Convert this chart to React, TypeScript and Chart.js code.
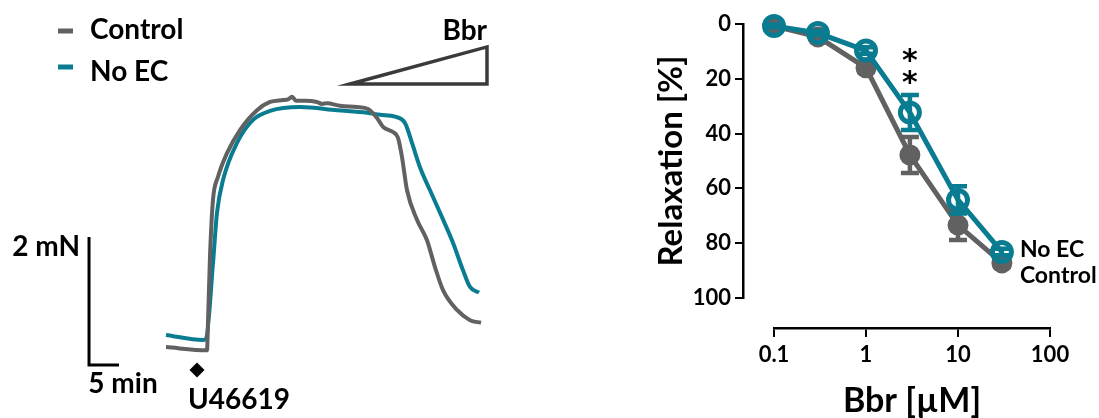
import React, { useEffect, useRef } from 'react';
import { Chart, registerables } from 'chart.js';

Chart.register(...registerables);

const FONT = 'Lato, "Open Sans", "DejaVu Sans", sans-serif';
const STAR_FONT = '"DejaVu Sans", sans-serif';
const WEIGHT = 'bold';
const GRAY = '#616161';
const TEAL = '#0a7c92';
const INK = '#000000';

// ---------- Left panel: tension traces (time in min, force in mN) ----------
const seriesNames = ['Control', 'No EC'];

const controlTraceMin = [0, 6.83, 7.0, 7.33, 7.83, 8.67, 10.17, 12.33, 15.17, 17.33, 19.5, 20.33, 21.0, 21.67, 23.17, 25.17, 26.0, 26.83, 29.0, 31.83, 33.67, 35.17, 36.17, 37.83, 38.67, 39.33, 40.17, 41.83, 43.5, 44.83, 46.17, 48.5, 50.67, 52.5];
const controlTraceMN = [0.28, 0.23, 0.66, 1.69, 2.58, 2.94, 3.31, 3.67, 3.98, 4.11, 4.14, 4.15, 4.19, 4.13, 4.13, 4.11, 4.08, 4.09, 4.05, 4.03, 4.0, 3.86, 3.72, 3.64, 3.55, 3.25, 2.73, 2.27, 1.95, 1.53, 1.17, 0.86, 0.7, 0.66];

const noEcTraceMin = [0, 6.17, 6.67, 7.83, 8.5, 9.5, 11.83, 14.5, 17.33, 22.33, 28.5, 33.5, 35.67, 38.17, 39.83, 41.0, 42.33, 44.0, 46.0, 47.83, 49.5, 50.67, 52.17];
const noEcTraceMN = [0.47, 0.39, 0.41, 1.59, 2.38, 2.89, 3.47, 3.83, 3.97, 4.03, 3.98, 3.94, 3.91, 3.88, 3.78, 3.47, 3.09, 2.73, 2.31, 1.91, 1.48, 1.22, 1.13];

// scale bar and markers (data units)
const scaleBarForceMN = 2;
const scaleBarTimeMin = 5;
const scaleBarAtMin = -12.83;
const u46619AtMin = 5.17;
const bbrWedgeStartMin = 30.67;
const bbrWedgeEndMin = 53.5;
const bbrWedgeLowMN = 4.39;
const bbrWedgeHighMN = 4.97;

// ---------- Right panel: concentration–response ----------
const bbrConcentrationsUM = [0.1, 0.3, 1, 3, 10, 30];
const controlRelaxation = [0.8, 4.7, 16, 47.8, 73.4, 87.2];
const controlSem = [0.5, 1, 1.5, 6.6, 5.4, 1.5];
const noEcRelaxation = [0.7, 3.3, 9.7, 32.3, 64.2, 83.2];
const noEcSem = [0.5, 0.8, 1.2, 6.4, 5.0, 1.2];
const xTickValues = [0.1, 1, 10, 100];
const yTickValues = [0, 20, 40, 60, 80, 100];
const significanceAt = 3;
const significanceMarks = ['*', '*'];

const bold = (size: number) => `${WEIGHT} ${size}px ${FONT}`;

const traceAnnotations = {
  id: 'traceAnnotations',
  afterDraw(chart: any) {
    const { ctx } = chart;
    const x = chart.scales.x;
    const y = chart.scales.y;
    ctx.save();
    // legend
    const legendColors = [GRAY, TEAL];
    const legendRows = [31, 67];
    const legendBase = [39, 81];
    seriesNames.forEach((name, i) => {
      ctx.strokeStyle = legendColors[i];
      ctx.lineWidth = 5;
      ctx.beginPath();
      ctx.moveTo(58, legendRows[i]);
      ctx.lineTo(73, legendRows[i]);
      ctx.stroke();
      ctx.fillStyle = INK;
      ctx.font = bold(28);
      ctx.textAlign = 'left';
      ctx.textBaseline = 'alphabetic';
      ctx.fillText(name, 90, legendBase[i]);
    });

    // Bbr wedge
    const wx0 = x.getPixelForValue(bbrWedgeStartMin);
    const wx1 = x.getPixelForValue(bbrWedgeEndMin);
    const wyLow = y.getPixelForValue(bbrWedgeLowMN);
    const wyHigh = y.getPixelForValue(bbrWedgeHighMN);
    ctx.strokeStyle = '#3a3a3a';
    ctx.lineWidth = 3.5;
    ctx.lineJoin = 'miter';
    ctx.beginPath();
    ctx.moveTo(wx0, wyLow);
    ctx.lineTo(wx1, wyHigh);
    ctx.lineTo(wx1, wyLow);
    ctx.closePath();
    ctx.stroke();
    ctx.fillStyle = INK;
    ctx.font = bold(28);
    ctx.textAlign = 'right';
    ctx.fillText('Bbr', wx1, wyHigh - 7);

    // scale bars
    const sx = x.getPixelForValue(scaleBarAtMin);
    const sx2 = x.getPixelForValue(scaleBarAtMin + scaleBarTimeMin);
    const sy0 = y.getPixelForValue(0);
    const sy1 = y.getPixelForValue(scaleBarForceMN);
    ctx.strokeStyle = INK;
    ctx.lineWidth = 3;
    ctx.lineJoin = 'miter';
    ctx.beginPath();
    ctx.moveTo(sx, sy1);
    ctx.lineTo(sx, sy0);
    ctx.lineTo(sx2, sy0);
    ctx.stroke();
    ctx.textAlign = 'right';
    ctx.fillText(`${scaleBarForceMN} mN`, sx - 9, sy1 + 19);
    ctx.textAlign = 'center';
    ctx.fillText(`${scaleBarTimeMin} min`, (sx + sx2) / 2 + 19, sy0 + 28);

    // U46619 marker
    const ux = x.getPixelForValue(u46619AtMin);
    const uy = y.getPixelForValue(0) + 5;
    ctx.beginPath();
    ctx.moveTo(ux, uy - 7.5);
    ctx.lineTo(ux + 7.5, uy);
    ctx.lineTo(ux, uy + 7.5);
    ctx.lineTo(ux - 7.5, uy);
    ctx.closePath();
    ctx.fill();
    ctx.textAlign = 'center';
    ctx.fillText('U46619', ux + 42, uy + 39);
    ctx.restore();
  },
};

const semByDataset = [noEcSem, controlSem];
const meanByDataset = [noEcRelaxation, controlRelaxation];

const shiftAxes = {
  id: 'shiftAxes',
  afterLayout(chart: any) {
    const xs = chart.scales.x;
    const ys = chart.scales.y;
    ys.left -= 31;
    ys.right -= 31;
    xs.top += 30;
    xs.bottom += 30;
  },
};

const semBars = {
  id: 'semBars',
  beforeDatasetDraw(chart: any, args: any) {
    const { ctx } = chart;
    const x = chart.scales.x;
    const y = chart.scales.y;
    const i = args.index;
    const means = meanByDataset[i];
    const sems = semByDataset[i];
    ctx.save();
    ctx.strokeStyle = chart.data.datasets[i].borderColor;
    ctx.lineWidth = 4.5;
    bbrConcentrationsUM.forEach((c, k) => {
      const px = x.getPixelForValue(c);
      const yTop = y.getPixelForValue(means[k] - sems[k]);
      const yBot = y.getPixelForValue(means[k] + sems[k]);
      ctx.beginPath();
      ctx.moveTo(px, yTop);
      ctx.lineTo(px, yBot);
      ctx.moveTo(px - 9, yTop);
      ctx.lineTo(px + 9, yTop);
      ctx.moveTo(px - 9, yBot);
      ctx.lineTo(px + 9, yBot);
      ctx.stroke();
    });
    ctx.restore();
  },
};

const curveLabels = {
  id: 'curveLabels',
  afterDatasetsDraw(chart: any) {
    const { ctx } = chart;
    const x = chart.scales.x;
    const y = chart.scales.y;
    ctx.save();
    ctx.fillStyle = INK;
    ctx.font = `bold 30px ${STAR_FONT}`;
    ctx.textAlign = 'center';
    ctx.textBaseline = 'alphabetic';
    const sx = x.getPixelForValue(significanceAt);
    significanceMarks.forEach((m, k) => {
      ctx.fillText(m, sx, 70 + k * 22);
    });
    const last = bbrConcentrationsUM.length - 1;
    const lx = x.getPixelForValue(bbrConcentrationsUM[last]) + 18;
    ctx.font = bold(23);
    ctx.textAlign = 'left';
    ctx.fillText('No EC', lx, y.getPixelForValue(noEcRelaxation[last]) + 5);
    ctx.fillText('Control', lx, y.getPixelForValue(controlRelaxation[last]) + 20);
    ctx.restore();
  },
};

export default function App() {
  const leftRef = useRef<HTMLCanvasElement>(null);
  const rightRef = useRef<HTMLCanvasElement>(null);

  useEffect(() => {
    Chart.defaults.font.family = FONT;
    const left = new Chart(leftRef.current as HTMLCanvasElement, {
      type: 'line',
      data: {
        datasets: [
          {
            label: seriesNames[0],
            data: controlTraceMin.map((t, i) => ({ x: t, y: controlTraceMN[i] })),
            borderColor: GRAY,
            borderWidth: 4,
            pointRadius: 0,
            cubicInterpolationMode: 'monotone',
            borderJoinStyle: 'round',
            clip: false,
          } as any,
          {
            label: seriesNames[1],
            data: noEcTraceMin.map((t, i) => ({ x: t, y: noEcTraceMN[i] })),
            borderColor: TEAL,
            borderWidth: 4,
            pointRadius: 0,
            cubicInterpolationMode: 'monotone',
            borderJoinStyle: 'round',
            clip: false,
          } as any,
        ],
      },
      options: {
        animation: false,
        responsive: false,
        devicePixelRatio: 1,
        layout: { padding: 0 },
        plugins: { legend: { display: false }, tooltip: { enabled: false } },
        scales: {
          x: { type: 'linear', display: false, min: -27.667, max: 65.667 },
          y: { type: 'linear', display: false, min: -0.828, max: 5.703 },
        },
      },
      plugins: [traceAnnotations],
    });

    const right = new Chart(rightRef.current as HTMLCanvasElement, {
      type: 'line',
      data: {
        datasets: [
          {
            label: 'No EC',
            data: bbrConcentrationsUM.map((c, i) => ({ x: c, y: noEcRelaxation[i] })),
            borderColor: TEAL,
            borderWidth: 5,
            pointRadius: 9.5,
            pointBorderWidth: 5,
            pointBackgroundColor: 'rgba(0,0,0,0)',
            pointBorderColor: TEAL,
            clip: false,
          } as any,
          {
            label: 'Control',
            data: bbrConcentrationsUM.map((c, i) => ({ x: c, y: controlRelaxation[i] })),
            borderColor: GRAY,
            borderWidth: 5,
            pointRadius: 10.5,
            pointBorderWidth: 0,
            pointBackgroundColor: GRAY,
            pointBorderColor: GRAY,
            clip: false,
          } as any,
        ],
      },
      options: {
        animation: false,
        responsive: false,
        devicePixelRatio: 1,
        layout: { padding: { top: 24, right: 49, bottom: 0, left: 0 } },
        plugins: { legend: { display: false }, tooltip: { enabled: false } },
        scales: {
          x: {
            type: 'logarithmic',
            position: 'bottom',
            min: 0.1,
            max: 100,
            afterBuildTicks: (s: any) => {
              s.ticks = xTickValues.map((v) => ({ value: v }));
            },
            afterFit: (s: any) => {
              s.height = 120;
            },
            ticks: {
              callback: (v: any) => String(v),
              autoSkip: false,
              maxRotation: 0,
              color: INK,
              padding: 5,
              font: { family: FONT, size: 22, weight: WEIGHT },
            },
            grid: { drawOnChartArea: false, drawTicks: true, tickLength: 9, color: INK, lineWidth: 2 },
            border: { display: true, color: INK, width: 2.5 },
            title: {
              display: true,
              text: 'Bbr [µM]',
              color: INK,
              font: { family: FONT, size: 34, weight: WEIGHT, lineHeight: 1 },
              padding: { top: 0, bottom: 30 },
            },
          } as any,
          y: {
            type: 'linear',
            position: 'left',
            reverse: true,
            min: 0,
            max: 100,
            afterBuildTicks: (s: any) => {
              s.ticks = yTickValues.map((v) => ({ value: v }));
            },
            afterFit: (s: any) => {
              s.width = 214;
            },
            ticks: {
              color: INK,
              padding: 4,
              font: { family: FONT, size: 22, weight: WEIGHT },
            },
            grid: { drawOnChartArea: false, drawTicks: true, tickLength: 8, color: INK, lineWidth: 2 },
            border: { display: true, color: INK, width: 2.5 },
            title: {
              display: true,
              text: 'Relaxation [%]',
              color: INK,
              font: { family: FONT, size: 33, weight: WEIGHT, lineHeight: 1 },
              padding: { top: 126, bottom: 0 },
            },
          } as any,
        },
      },
      plugins: [shiftAxes, semBars, curveLabels],
    });

    return () => {
      left.destroy();
      right.destroy();
    };
  }, []);

  return (
    <div
      style={{
        position: 'absolute',
        left: 0,
        top: 0,
        width: 1099,
        height: 418,
        background: '#ffffff',
        overflow: 'hidden',
      }}
    >
      <canvas
        ref={leftRef}
        width={560}
        height={418}
        style={{ position: 'absolute', left: 0, top: 0, width: 560, height: 418 }}
      />
      <canvas
        ref={rightRef}
        width={539}
        height={418}
        style={{ position: 'absolute', left: 560, top: 0, width: 539, height: 418 }}
      />
    </div>
  );
}
